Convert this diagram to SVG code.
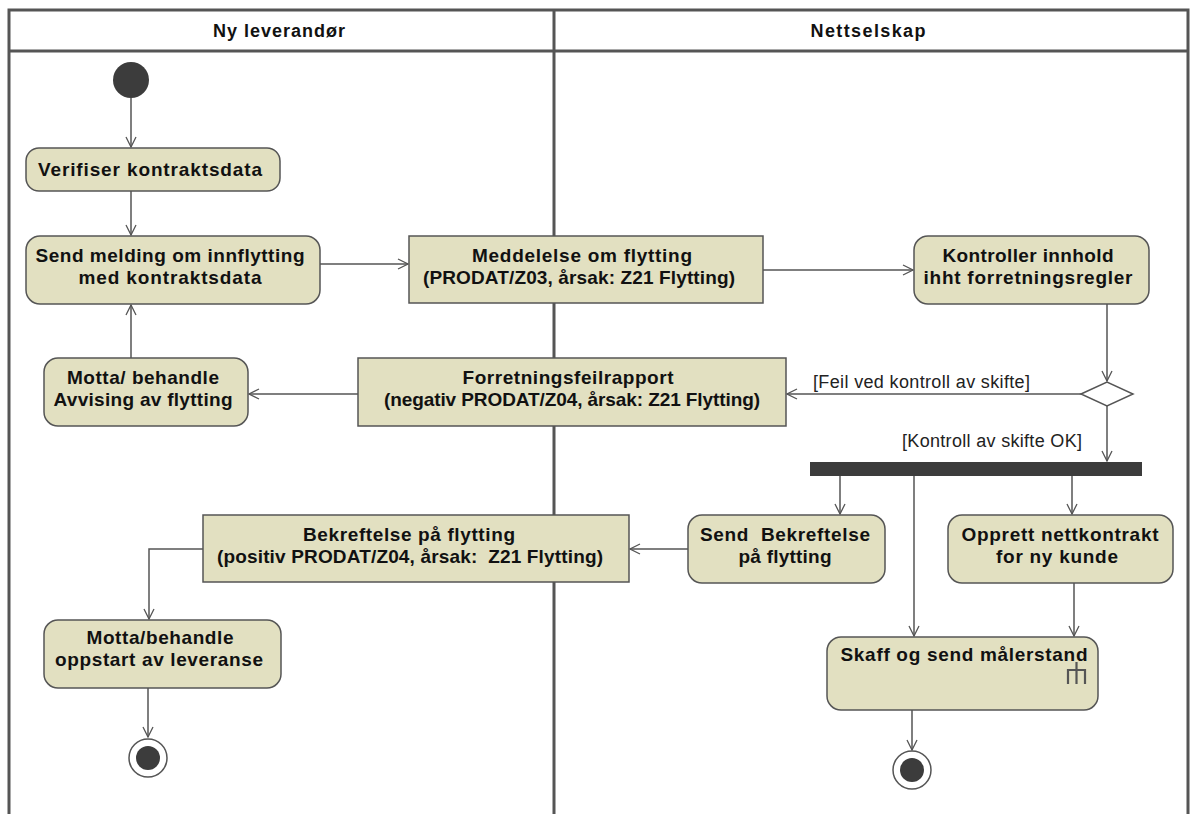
<svg xmlns="http://www.w3.org/2000/svg" width="1190" height="814" viewBox="0 0 1190 814">
<defs>
<marker id="arr" viewBox="0 0 12 12" refX="11" refY="6" markerWidth="12" markerHeight="12" markerUnits="userSpaceOnUse" orient="auto">
<path d="M1,1 L11,6 L1,11" fill="none" stroke="#555" stroke-width="1.3"/>
</marker>
<style>
.lane{fill:none;stroke:#555;stroke-width:3}
.act{fill:#e2e0c1;stroke:#555;stroke-width:1.5}
.obj{fill:#e2e0c1;stroke:#555;stroke-width:1.5}
.t{font-family:"Liberation Sans",Arial,sans-serif;font-weight:bold;font-size:19px;fill:#111;text-anchor:middle}
.h{font-family:"Liberation Sans",Arial,sans-serif;font-weight:bold;font-size:18px;fill:#111;text-anchor:middle}
.g{font-family:"Liberation Sans",Arial,sans-serif;font-size:18px;fill:#222}
.c{fill:none;stroke:#555;stroke-width:1.5;marker-end:url(#arr)}
</style>
</defs>
<rect width="1190" height="814" fill="#fff"/>
<g id="swimlanes">
<path class="lane" d="M9,814 V10 H1188 V814 M9,51 H1188 M554,10 V814"/>
<text class="h" x="279" y="37" textLength="132">Ny leverandør</text>
<text class="h" x="868" y="37" textLength="115">Nettselskap</text>
</g>
<g id="connectors">
<path class="c" d="M131,98 V147"/>
<path class="c" d="M131,191 V235"/>
<path class="c" d="M320,264 H408"/>
<path class="c" d="M763,270 H913"/>
<path class="c" d="M1107,304 V381"/>
<path class="c" d="M1081,394 H787"/>
<text class="g" x="813" y="388" textLength="217">[Feil ved kontroll av skifte]</text>
<path class="c" d="M1107,406 V461"/>
<text class="g" x="902" y="447" textLength="180">[Kontroll av skifte OK]</text>
<path class="c" d="M358,394 H249"/>
<path class="c" d="M131,358 V305"/>
<path class="c" d="M840,476 V514"/>
<path class="c" d="M1072,476 V514"/>
<path class="c" d="M914,476 V636"/>
<path class="c" d="M1074,583 V636"/>
<path class="c" d="M688,549 H630"/>
<path class="c" d="M203,549 H149 V619"/>
<path class="c" d="M148,688 V737"/>
<path class="c" d="M912,710 V750"/>
</g>
<g id="start"><circle cx="131" cy="80" r="18" fill="#3c3c3c"/></g>
<g id="verifiser">
<rect class="act" x="26" y="148" width="254" height="43" rx="13"/>
<text class="t" x="150" y="176" textLength="224">Verifiser kontraktsdata</text>
</g>
<g id="send-melding">
<rect class="act" x="26" y="236" width="294" height="68" rx="14"/>
<text class="t" x="170" y="262" textLength="269">Send melding om innflytting</text>
<text class="t" x="170" y="284" textLength="183">med kontraktsdata</text>
</g>
<g id="meddelelse">
<rect class="obj" x="409" y="236" width="354" height="67"/>
<text class="t" x="582" y="262" textLength="220">Meddelelse om flytting</text>
<text class="t" x="579" y="284" textLength="312">(PRODAT/Z03, årsak: Z21 Flytting)</text>
</g>
<g id="kontroller">
<rect class="act" x="914" y="236" width="235" height="68" rx="14"/>
<text class="t" x="1028" y="262" textLength="171">Kontroller innhold</text>
<text class="t" x="1028" y="284" textLength="209">ihht forretningsregler</text>
</g>
<g id="decision">
<path d="M1081,394 L1107,382 L1133,394 L1107,406 Z" fill="#fff" stroke="#555" stroke-width="1.5"/>
</g>
<g id="forretningsfeil">
<rect class="obj" x="358" y="358" width="428" height="68"/>
<text class="t" x="568" y="384" textLength="211">Forretningsfeilrapport</text>
<text class="t" x="572" y="406" textLength="376">(negativ PRODAT/Z04, årsak: Z21 Flytting)</text>
</g>
<g id="motta-avvising">
<rect class="act" x="44" y="358" width="204" height="68" rx="14"/>
<text class="t" x="143" y="384" textLength="152">Motta/ behandle</text>
<text class="t" x="143" y="406" textLength="179">Avvising av flytting</text>
</g>
<g id="fork"><rect x="810" y="462" width="332" height="14" fill="#3c3c3c"/></g>
<g id="send-bekreftelse">
<rect class="act" x="688" y="515" width="197" height="68" rx="14"/>
<text class="t" x="785" y="541" textLength="170" xml:space="preserve">Send  Bekreftelse</text>
<text class="t" x="785" y="563" textLength="93">på flytting</text>
</g>
<g id="opprett">
<rect class="act" x="948" y="515" width="225" height="68" rx="14"/>
<text class="t" x="1060" y="541" textLength="197">Opprett nettkontrakt</text>
<text class="t" x="1057" y="563" textLength="122">for ny kunde</text>
</g>
<g id="bekreftelse">
<rect class="obj" x="203" y="515" width="426" height="67"/>
<text class="t" x="409" y="541" textLength="212">Bekreftelse på flytting</text>
<text class="t" x="410" y="563" textLength="386" xml:space="preserve">(positiv PRODAT/Z04, årsak:  Z21 Flytting)</text>
</g>
<g id="skaff">
<rect class="act" x="827" y="637" width="271" height="73" rx="14"/>
<text class="t" x="964" y="661" textLength="247">Skaff og send målerstand</text>
<path d="M1068,684 V670 H1085 V684 M1076.5,670 V684 M1076.5,670 V662" fill="none" stroke="#555" stroke-width="2.2"/>
</g>
<g id="motta-oppstart">
<rect class="act" x="44" y="620" width="237" height="68" rx="14"/>
<text class="t" x="160" y="644" textLength="147">Motta/behandle</text>
<text class="t" x="159" y="666" textLength="208">oppstart av leveranse</text>
</g>
<g id="end-left">
<circle cx="148" cy="758" r="19" fill="#fff" stroke="#555" stroke-width="1.5"/>
<circle cx="148" cy="758" r="12" fill="#3c3c3c"/>
</g>
<g id="end-right">
<circle cx="912" cy="770" r="19" fill="#fff" stroke="#555" stroke-width="1.5"/>
<circle cx="912" cy="770" r="12" fill="#3c3c3c"/>
</g>
</svg>
